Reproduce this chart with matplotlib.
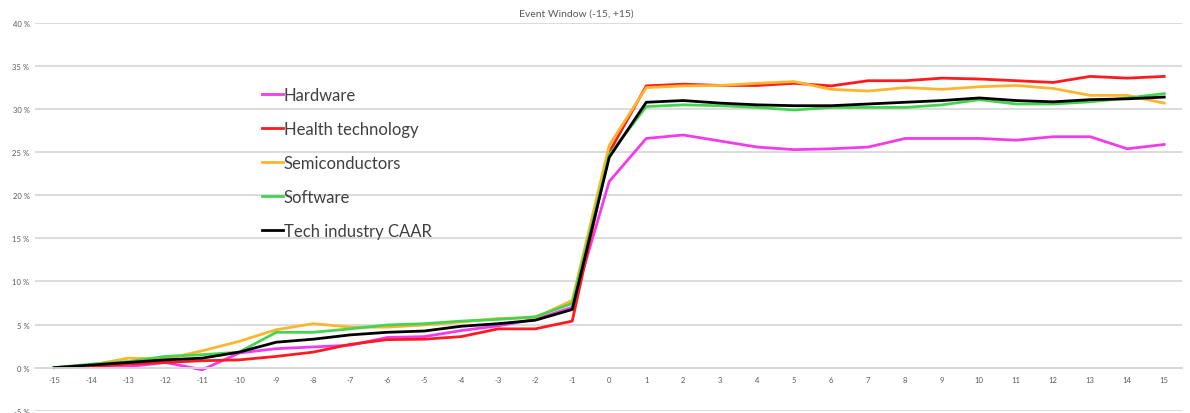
import numpy as np
import matplotlib
matplotlib.use("Agg")
import matplotlib.pyplot as plt

plt.rcParams['font.family'] = ['Lato', 'DejaVu Sans']

# event days (-15 .. +15)
days = list(range(-15, 16))

# cumulative abnormal returns, in percent
hardware = [0.0, 0.1, 0.1, 0.6, -0.25, 1.7, 2.2, 2.4, 2.6, 3.5, 3.6, 4.3, 4.85, 5.6, 7.0,
            21.6, 26.6, 27.0, 26.3, 25.6, 25.3, 25.4, 25.6, 26.6, 26.6, 26.6, 26.4, 26.8, 26.8, 25.4, 25.9]
health = [0.0, 0.15, 0.4, 0.6, 0.8, 0.9, 1.3, 1.8, 2.7, 3.25, 3.3, 3.6, 4.5, 4.5, 5.4,
          25.0, 32.7, 32.9, 32.75, 32.75, 33.0, 32.7, 33.3, 33.3, 33.6, 33.5, 33.3, 33.1, 33.8, 33.6, 33.8]
semis = [0.0, 0.3, 1.1, 1.0, 1.95, 3.05, 4.4, 5.1, 4.7, 4.7, 4.95, 5.3, 5.7, 5.8, 7.8,
         25.8, 32.5, 32.7, 32.75, 33.0, 33.2, 32.3, 32.1, 32.5, 32.3, 32.6, 32.75, 32.4, 31.6, 31.6, 30.7]
software = [0.0, 0.4, 0.7, 1.3, 1.5, 1.8, 4.1, 4.1, 4.5, 4.95, 5.1, 5.4, 5.6, 5.9, 7.45,
            24.7, 30.3, 30.5, 30.4, 30.2, 29.9, 30.2, 30.2, 30.2, 30.5, 31.1, 30.6, 30.6, 30.85, 31.3, 31.8]
caar = [0.0, 0.3, 0.6, 0.9, 1.1, 1.8, 2.95, 3.3, 3.8, 4.1, 4.25, 4.8, 5.1, 5.5, 6.75,
        24.4, 30.8, 31.0, 30.7, 30.5, 30.4, 30.4, 30.6, 30.8, 31.0, 31.3, 31.0, 30.85, 31.1, 31.2, 31.4]

series = [
    ("Hardware", hardware, "#F23CEB"),
    ("Health technology", health, "#FF1A1F"),
    ("Semiconductors", semis, "#FDB52E"),
    ("Software", software, "#45D452"),
    ("Tech industry CAAR", caar, "#000000"),
]

fig = plt.figure(figsize=(11.9, 4.14), dpi=100)
ax = fig.add_axes([35 / 1190, 1 - 411.7 / 414, (1182 - 35) / 1190, (411.7 - 24) / 414])

for name, vals, col in series:
    ax.plot(days, vals, color=col, lw=2.0, label=name, solid_joinstyle='round')

ax.set_xlim(-15.52, 15.48)
ax.set_ylim(-5, 40)
ax.set_yticks(np.arange(-5, 41, 5))
ax.set_yticklabels([f"{v} %" for v in range(-5, 41, 5)])
ax.set_xticks(days)
ax.set_xticklabels([str(d) for d in days])

ax.grid(axis='y', color='#D9D9D9', lw=1.3)
ax.set_axisbelow(True)
for s in ['top', 'right', 'left']:
    ax.spines[s].set_visible(False)
ax.spines['bottom'].set_position(('data', 0))
ax.spines['bottom'].set_color('#D9D9D9')
ax.spines['bottom'].set_linewidth(1.3)
ax.tick_params(axis='both', length=0, labelsize=5.5, labelcolor='#595959')
ax.tick_params(axis='x', pad=6)
ax.tick_params(axis='y', pad=4)

fig.text(576 / 1190, 1 - 14 / 414, "Event Window (-15, +15)", ha='center', va='center',
         fontsize=7.5, color='#595959')

leg = ax.legend(loc='upper left', bbox_to_anchor=(262 / 1190, 1 - 88 / 414),
                bbox_transform=fig.transFigure, frameon=False, fontsize=12,
                handlelength=1.25, handletextpad=0.05, labelspacing=1.08, borderpad=0,
                borderaxespad=0)
for t in leg.get_texts():
    t.set_color('#404040')

fig.savefig("out.png", dpi=100)
